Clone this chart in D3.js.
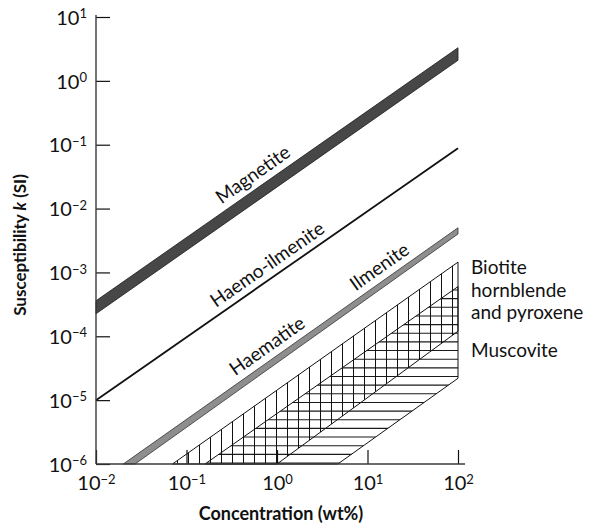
<!DOCTYPE html>
<html>
<head>
<meta charset="utf-8">
<script src="https://cdn.jsdelivr.net/npm/d3@7"></script>
<style>
  body { margin: 0; background: #fff; }
  text { font-family: Lato, "Open Sans", sans-serif; fill: #111; }
</style>
</head>
<body>
<script>
// log-log susceptibility vs concentration

var xTickExps = [-2, -1, 0, 1, 2];
var yTickExps = [-6, -5, -4, -3, -2, -1, 0, 1];

// line endpoints [concentration wt%, susceptibility SI]
var magnetiteTop = [[0.01, 3.6e-4], [100, 3.3]];
var magnetiteBottom = [[0.01, 2.25e-4], [100, 2.1]];
var haemoIlmenite = [[0.01, 1e-5], [100, 0.088]];
var ilmeniteTop = [[0.02, 1e-6], [100, 5e-3]];
var ilmeniteBottom = [[0.027, 1e-6], [100, 4e-3]];
var biotiteTop = [[0.07, 1e-6], [100, 1.45e-3]];
var biotiteBottom = [[1.0, 1e-6], [100, 1.2e-4]];
var muscoviteTop = [[0.16, 1e-6], [100, 6e-4]];
var muscoviteBottom = [[4.7, 1e-6], [100, 2.2e-5]];

// labels along the lines: text, line, concentration at label centre
var lineLabels = ["Magnetite", "Haemo-ilmenite", "Haematite", "Ilmenite"];
var lineLabelLines = [magnetiteTop, haemoIlmenite, ilmeniteTop, ilmeniteTop];
var lineLabelAt = [0.66, 0.95, 0.95, 16.5];

var legendLines = ["Biotite", "hornblende", "and pyroxene"];
var legendMuscovite = "Muscovite";

var width = 595, height = 531;

var svg = d3.select("body").append("svg")
    .attr("width", width)
    .attr("height", height);

var x = d3.scaleLog().domain([0.01, 100]).range([96, 458]);
var y = d3.scaleLog().domain([1e-6, 10]).range([464, 17]);

function kAt(line, c) {
    var lc0 = Math.log10(line[0][0]), lc1 = Math.log10(line[1][0]);
    var lk0 = Math.log10(line[0][1]), lk1 = Math.log10(line[1][1]);
    var t = (Math.log10(c) - lc0) / (lc1 - lc0);
    return Math.pow(10, lk0 + t * (lk1 - lk0));
}

function bandPoints(top, bottom) {
    return [top[0], top[1], bottom[1], bottom[0]].map(function(d) { return [x(d[0]), y(d[1])]; });
}

var lineGen = d3.line();

// ====== HATCHED REGIONS ======
var defs = svg.append("defs");
var biotitePts = bandPoints(biotiteTop, biotiteBottom);
var muscovitePts = bandPoints(muscoviteTop, muscoviteBottom);

defs.append("clipPath").attr("id", "clip-biotite")
    .append("path").attr("d", lineGen(biotitePts) + "Z");
defs.append("clipPath").attr("id", "clip-muscovite")
    .append("path").attr("d", lineGen(muscovitePts) + "Z");

var musc = svg.append("g").attr("clip-path", "url(#clip-muscovite)");
musc.selectAll("line")
    .data(d3.range(463, 240, -8.65))
    .enter().append("line")
        .attr("x1", 90).attr("x2", 470)
        .attr("y1", function(d) { return d; })
        .attr("y2", function(d) { return d; })
        .style("stroke", "#1a1a1a")
        .style("stroke-width", 1.1);

var bio = svg.append("g").attr("clip-path", "url(#clip-biotite)");
bio.selectAll("line")
    .data(d3.range(452.5, 160, -11))
    .enter().append("line")
        .attr("x1", function(d) { return d; })
        .attr("x2", function(d) { return d; })
        .attr("y1", 200).attr("y2", 470)
        .style("stroke", "#111")
        .style("stroke-width", 1);

svg.append("path")
    .attr("d", lineGen(muscovitePts) + "Z")
    .style("fill", "none").style("stroke", "#111").style("stroke-width", 1);
svg.append("path")
    .attr("d", lineGen(biotitePts) + "Z")
    .style("fill", "none").style("stroke", "#111").style("stroke-width", 1);

// ====== BANDS ======
svg.append("path")
    .attr("d", lineGen(bandPoints(magnetiteTop, magnetiteBottom)) + "Z")
    .style("fill", "#474747")
    .style("stroke", "#1a1a1a")
    .style("stroke-width", 0.8);

svg.append("path")
    .attr("d", lineGen(bandPoints(ilmeniteTop, ilmeniteBottom)) + "Z")
    .style("fill", "#8e8e8e")
    .style("stroke", "#333")
    .style("stroke-width", 0.8);

svg.append("path")
    .attr("d", lineGen(haemoIlmenite.map(function(d) { return [x(d[0]), y(d[1])]; })))
    .style("fill", "none")
    .style("stroke", "#111")
    .style("stroke-width", 1.8);

// ====== AXES ======
var xAxis = svg.append("g")
    .attr("transform", "translate(0," + y(1e-6) + ")")
    .call(d3.axisBottom(x)
        .tickValues(xTickExps.map(function(e) { return Math.pow(10, e); }))
        .tickSizeInner(-14).tickSizeOuter(0).tickFormat(""));

var yAxis = svg.append("g")
    .attr("transform", "translate(" + x(0.01) + ",0)")
    .call(d3.axisLeft(y)
        .tickValues(yTickExps.map(function(e) { return Math.pow(10, e); }))
        .tickSizeInner(-14).tickSizeOuter(0).tickFormat(""));

[xAxis, yAxis].forEach(function(ax) {
    ax.select(".domain").remove();
    ax.selectAll(".tick line").style("stroke", "#111").style("stroke-width", 1.2);
});

// axis lines drawn by hand so they overshoot a little like the original
svg.append("line")
    .attr("x1", x(0.01)).attr("x2", x(0.01))
    .attr("y1", y(1e-6)).attr("y2", y(10) - 2)
    .style("stroke", "#3a3a3a").style("stroke-width", 1.4);
svg.append("line")
    .attr("x1", x(0.01)).attr("x2", x(100) + 7)
    .attr("y1", y(1e-6)).attr("y2", y(1e-6))
    .style("stroke", "#3a3a3a").style("stroke-width", 1.4);

function powLabel(sel, e) {
    sel.append("tspan").text("10");
    sel.append("tspan")
        .attr("dy", "-0.5em")
        .style("font-size", "13px")
        .text(e < 0 ? "\u2212" + (-e) : "" + e);
}

xAxis.selectAll(".tick").each(function(d, i) {
    var t = d3.select(this).append("text")
        .attr("y", 26)
        .attr("text-anchor", "middle")
        .style("font-size", "20px");
    powLabel(t, xTickExps[i]);
});

yAxis.selectAll(".tick").each(function(d, i) {
    var t = d3.select(this).append("text")
        .attr("x", -9)
        .attr("dy", "0.36em")
        .attr("text-anchor", "end")
        .style("font-size", "20px");
    powLabel(t, yTickExps[i]);
});

svg.append("text")
    .attr("x", 281).attr("y", 520)
    .attr("text-anchor", "middle")
    .style("font-size", "18px").style("font-weight", "bold")
    .text("Concentration (wt%)");

var yl = svg.append("text")
    .attr("transform", "translate(26,245) rotate(-90)")
    .attr("text-anchor", "middle")
    .style("font-size", "17px").style("font-weight", "bold");
yl.append("tspan").text("Susceptibility ");
yl.append("tspan").style("font-style", "italic").text("k");
yl.append("tspan").text(" (SI)");

// ====== LABELS ======
lineLabels.forEach(function(name, i) {
    var line = lineLabelLines[i];
    var c = lineLabelAt[i];
    var ang = Math.atan2(y(line[1][1]) - y(line[0][1]), x(line[1][0]) - x(line[0][0])) * 180 / Math.PI;
    svg.append("text")
        .attr("transform", "translate(" + x(c) + "," + y(kAt(line, c)) + ") rotate(" + ang + ")")
        .attr("y", -7)
        .attr("text-anchor", "middle")
        .style("font-size", "19px")
        .text(name);
});

svg.selectAll(".legend")
    .data(legendLines)
    .enter().append("text")
        .attr("class", "legend")
        .attr("x", 471)
        .attr("y", function(d, i) { return 274 + i * 22.5; })
        .style("font-size", "19px")
        .text(function(d) { return d; });

svg.append("text")
    .attr("x", 471).attr("y", 357)
    .style("font-size", "19px")
    .text(legendMuscovite);
</script>
</body>
</html>
